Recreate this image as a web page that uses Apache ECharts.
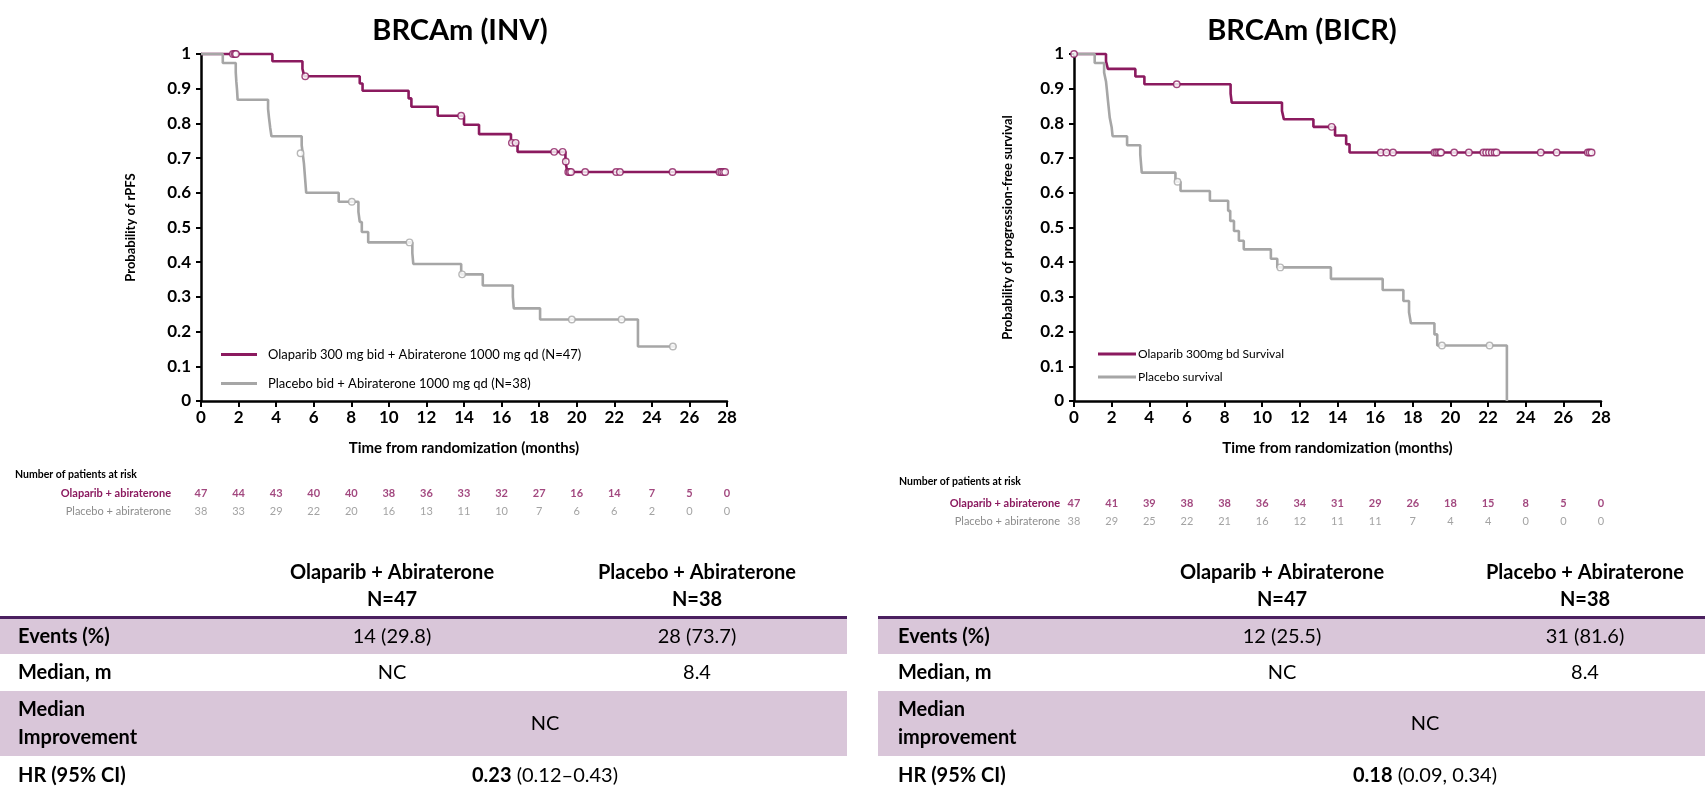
<!DOCTYPE html>
<html><head><meta charset="utf-8">
<script src="https://cdn.jsdelivr.net/npm/echarts@6/dist/echarts.min.js"></script>
<style>html,body{margin:0;padding:0;background:#fff}#c{width:1705px;height:788px}</style>
</head><body><div id="c"></div>
<script>
// ---------- DATA ----------
const riskMonths = [0,2,4,6,8,10,12,14,16,18,20,22,24,26,28];

// BRCAm (INV)
const invOlaT = [0, 3.8, 5.4, 5.5, 8.45, 8.6, 11.05, 11.2, 12.6, 14.0, 14.8, 16.5, 16.85, 19.4, 19.5, 27.9];
const invOlaS = [1, 0.979, 0.957, 0.936, 0.915, 0.894, 0.872, 0.848, 0.822, 0.796, 0.769, 0.744, 0.718, 0.690, 0.660, 0.660];
const invOlaCensT = [1.7, 1.8, 1.86, 5.55, 13.85, 16.55, 16.75, 18.8, 19.25, 19.42, 19.55, 19.62, 19.7, 20.45, 22.1, 22.3, 25.1, 27.6, 27.7, 27.8, 27.9];
const invOlaCensS = [1, 1, 1, 0.936, 0.822, 0.744, 0.744, 0.718, 0.718, 0.690, 0.660, 0.660, 0.660, 0.660, 0.660, 0.660, 0.660, 0.660, 0.660, 0.660, 0.660];
const invPlaT = [0, 1.16, 1.85, 1.88, 1.92, 1.95, 3.57, 3.62, 3.68, 3.75, 5.36, 5.42, 5.48, 5.52, 5.56, 5.6, 7.33, 8.38, 8.45, 8.56, 8.9, 11.25, 11.3, 13.85, 15.0, 16.6, 16.65, 18.05, 23.26, 25.3];
const invPlaS = [1, 0.974, 0.947, 0.921, 0.895, 0.868, 0.842, 0.816, 0.789, 0.763, 0.737, 0.711, 0.684, 0.656, 0.628, 0.600, 0.574, 0.545, 0.516, 0.487, 0.457, 0.426, 0.395, 0.365, 0.333, 0.300, 0.267, 0.235, 0.157, 0.157];
const invPlaCensT = [5.3, 8.03, 11.1, 13.9, 19.74, 22.39, 25.12];
const invPlaCensS = [0.714, 0.574, 0.457, 0.365, 0.235, 0.235, 0.157];
const invOlaRisk = [47,44,43,40,40,38,36,33,32,27,16,14,7,5,0];
const invPlaRisk = [38,33,29,22,20,16,13,11,10,7,6,6,2,0,0];

// BRCAm (BICR)
const bicrOlaT = [0, 1.7, 1.8, 3.26, 3.74, 8.32, 8.38, 11.05, 11.15, 12.72, 13.87, 14.46, 14.64, 27.5];
const bicrOlaS = [1, 0.979, 0.957, 0.935, 0.913, 0.886, 0.860, 0.836, 0.812, 0.790, 0.765, 0.740, 0.716, 0.716];
const bicrOlaCensT = [0, 5.46, 13.69, 16.3, 16.6, 16.95, 19.15, 19.25, 19.35, 19.45, 19.5, 20.2, 20.98, 21.75, 21.9, 22.05, 22.2, 22.35, 22.45, 24.8, 25.64, 27.3, 27.4, 27.5];
const bicrOlaCensS = [1, 0.913, 0.790, 0.716, 0.716, 0.716, 0.716, 0.716, 0.716, 0.716, 0.716, 0.716, 0.716, 0.716, 0.716, 0.716, 0.716, 0.716, 0.716, 0.716, 0.716, 0.716, 0.716, 0.716];
const bicrPlaT = [0, 1.1, 1.6, 1.7, 1.75, 1.8, 1.85, 1.9, 2.0, 2.05, 2.82, 3.52, 3.56, 3.6, 5.39, 5.66, 7.22, 8.19, 8.3, 8.5, 8.76, 9.02, 10.46, 10.8, 13.65, 16.4, 17.5, 17.8, 17.9, 19.15, 19.3, 23.0];
const bicrPlaS = [1, 0.974, 0.947, 0.921, 0.895, 0.868, 0.842, 0.816, 0.789, 0.763, 0.737, 0.711, 0.684, 0.658, 0.632, 0.605, 0.577, 0.548, 0.519, 0.490, 0.462, 0.437, 0.410, 0.385, 0.352, 0.320, 0.288, 0.256, 0.224, 0.192, 0.160, 0];
const bicrPlaCensT = [5.5, 10.96, 19.55, 22.08];
const bicrPlaCensS = [0.632, 0.385, 0.160, 0.160];
const bicrOlaRisk = [47,41,39,38,38,36,34,31,29,26,18,15,8,5,0];
const bicrPlaRisk = [38,29,25,22,21,16,12,11,11,7,4,4,0,0,0];

const riskRows = ['Olaparib + abiraterone', 'Placebo + abiraterone'];

// Tables
const tableHead = [['Olaparib + Abiraterone', 'N=47'], ['Placebo + Abiraterone', 'N=38']];
const invRowLabels = ['Events (%)', 'Median, m', 'Median\nImprovement', 'HR (95% CI)'];
const bicrRowLabels = ['Events (%)', 'Median, m', 'Median\nimprovement', 'HR (95% CI)'];
const invEvents = ['14 (29.8)', '28 (73.7)'];
const invMedian = ['NC', '8.4'];
const invImprove = 'NC';
const invHR = ['0.23', ' (0.12–0.43)'];
const bicrEvents = ['12 (25.5)', '31 (81.6)'];
const bicrMedian = ['NC', '8.4'];
const bicrImprove = 'NC';
const bicrHR = ['0.18', ' (0.09, 0.34)'];

// ---------- STYLE ----------
const FONT = "Lato, 'Open Sans', sans-serif";
const PURPLE = '#8b1a5f';
const GRAY = '#a6a6a6';
const GRAYTXT = '#8c8c8c';
const BAND = '#d9c6d9';
const DARK = '#4b2060';

const chart = echarts.init(document.getElementById('c'), null, {renderer: 'canvas'});

function km(name, t, s, color, ai) {
  return {type: 'line', name: name, step: 'end', data: t.map((x, i) => [x, s[i]]),
    xAxisIndex: ai, yAxisIndex: ai, symbol: 'none', showSymbol: false, clip: false,
    lineStyle: {color: color, width: 2.6}, itemStyle: {color: color}, z: 3, silent: true, animation: false};
}
function cens(t, s, color, ai) {
  return {type: 'scatter', data: t.map((x, i) => [x, s[i]]), xAxisIndex: ai, yAxisIndex: ai,
    symbol: 'circle', symbolSize: 6.5, clip: false,
    itemStyle: {color: '#fff', borderColor: color, borderWidth: 1.4}, z: 4, silent: true, animation: false};
}
function risk(vals, row, ai, style) {
  return {type: 'scatter', data: riskMonths.map((m, i) => [m, riskRows[row], vals[i]]),
    xAxisIndex: ai, yAxisIndex: ai, symbolSize: 0, silent: true, animation: false,
    label: {show: true, position: 'inside', formatter: p => p.value[2], fontFamily: FONT,
      fontSize: 11, color: style.color, fontWeight: style.weight}};
}
function kmX(gi) {
  return {type: 'value', gridIndex: gi, min: 0, max: 28, interval: 2,
    axisLine: {show: true, lineStyle: {color: '#000', width: 2.5}},
    axisTick: {show: true, inside: false, length: 6, lineStyle: {color: '#000', width: 2}},
    axisLabel: {fontFamily: FONT, fontWeight: 'bold', fontSize: 17, color: '#000', margin: 8},
    splitLine: {show: false},
    name: 'Time from randomization (months)', nameLocation: 'middle', nameGap: 40,
    nameTextStyle: {fontFamily: FONT, fontWeight: 'bold', fontSize: 15, color: '#000'}};
}
function kmY(gi, name, gap) {
  return {type: 'value', gridIndex: gi, min: 0, max: 1, interval: 0.1,
    axisLine: {show: true, lineStyle: {color: '#000', width: 2.5}},
    axisTick: {show: true, inside: false, length: 5, lineStyle: {color: '#000', width: 2}},
    axisLabel: {fontFamily: FONT, fontWeight: 'bold', fontSize: 17, color: '#000', margin: 10},
    splitLine: {show: false},
    name: name, nameLocation: 'middle', nameGap: gap, nameRotate: 90,
    nameTextStyle: {fontFamily: FONT, fontWeight: 'bold', fontSize: 13, color: '#000'}};
}
function riskY(gi, margin) {
  return {type: 'category', gridIndex: gi, data: riskRows, inverse: true,
    axisLine: {show: false}, axisTick: {show: false}, splitLine: {show: false},
    axisLabel: {margin: margin, formatter: (v, i) => (i === 0 ? '{o|' + v + '}' : '{p|' + v + '}'),
      rich: {o: {color: PURPLE, fontWeight: 'bold', fontSize: 11, fontFamily: FONT},
             p: {color: GRAYTXT, fontSize: 11, fontFamily: FONT}}}};
}

// ---------- TABLE GRAPHICS ----------
function table(x0, x1, labelX, c1, c2, cm, labels, ev, med, imp, hr) {
  const g = [];
  const hy1 = 573, hy2 = 600;
  const bands = [[619, 654], [691, 756]];
  bands.forEach(b => g.push({type: 'rect', shape: {x: x0, y: b[0], width: x1 - x0, height: b[1] - b[0]}, style: {fill: BAND}, silent: true}));
  g.push({type: 'rect', shape: {x: x0, y: 616, width: x1 - x0, height: 3}, style: {fill: DARK}, silent: true});
  const t = (x, y, text, align, bold, extra) => g.push({type: 'text', silent: true,
    style: Object.assign({x: x, y: y, text: text, textAlign: align, textVerticalAlign: 'middle',
      font: (bold ? 'bold ' : '') + '20px ' + FONT, fill: '#000', lineHeight: 28}, extra || {})});
  [c1, c2].forEach((cx, i) => { t(cx, hy1, tableHead[i][0], 'center', true); t(cx, hy2, tableHead[i][1], 'center', true); });
  const ys = [637, 673, 724, 776];
  labels.forEach((l, i) => t(labelX, ys[i], l, 'left', true));
  t(c1, ys[0], ev[0], 'center', false); t(c2, ys[0], ev[1], 'center', false);
  t(c1, ys[1], med[0], 'center', false); t(c2, ys[1], med[1], 'center', false);
  t(cm, ys[2], imp, 'center', false);
  t(cm, ys[3], '{b|' + hr[0] + '}' + hr[1], 'center', false,
    {rich: {b: {fontWeight: 'bold', fontSize: 20, fontFamily: FONT, fill: '#000'}}});
  return g;
}

const graphics = [
  {type: 'text', silent: true, style: {x: 460, y: 31, text: 'BRCAm (INV)', textAlign: 'center', textVerticalAlign: 'middle', font: 'bold 29px ' + FONT, fill: '#000'}},
  {type: 'text', silent: true, style: {x: 1302, y: 31, text: 'BRCAm (BICR)', textAlign: 'center', textVerticalAlign: 'middle', font: 'bold 29px ' + FONT, fill: '#000'}},
  {type: 'text', silent: true, style: {x: 15, y: 475, text: 'Number of patients at risk', textAlign: 'left', textVerticalAlign: 'middle', font: 'bold 10.5px ' + FONT, fill: '#000'}},
  {type: 'text', silent: true, style: {x: 899, y: 482, text: 'Number of patients at risk', textAlign: 'left', textVerticalAlign: 'middle', font: 'bold 10.5px ' + FONT, fill: '#000'}}
].concat(
  table(0, 847, 18, 392, 697, 545, invRowLabels, invEvents, invMedian, invImprove, invHR),
  table(878, 1705, 898, 1282, 1585, 1425, bicrRowLabels, bicrEvents, bicrMedian, bicrImprove, bicrHR)
);

const option = {
  animation: false,
  backgroundColor: '#fff',
  grid: [
    {left: 201, top: 54, width: 526, height: 347},
    {left: 1074, top: 54, width: 527, height: 347},
    {left: 201, top: 485, width: 526, height: 35},
    {left: 1074, top: 494, width: 527, height: 36}
  ],
  xAxis: [kmX(0), kmX(1),
    {type: 'value', gridIndex: 2, min: 0, max: 28, show: false},
    {type: 'value', gridIndex: 3, min: 0, max: 28, show: false}],
  yAxis: [kmY(0, 'Probability of rPFS', 64), kmY(1, 'Probability of progression-free survival', 60),
    riskY(2, 30), riskY(3, 14)],
  legend: [
    {orient: 'vertical', left: 216, top: 343, itemGap: 16, itemWidth: 36, itemHeight: 3, icon: 'rect',
      data: ['Olaparib 300 mg bid + Abiraterone 1000 mg qd (N=47)', 'Placebo bid + Abiraterone 1000 mg qd (N=38)'],
      textStyle: {fontFamily: FONT, fontSize: 13, color: '#000', padding: [0, 0, 0, 6]}, selectedMode: false},
    {orient: 'vertical', left: 1093, top: 343, itemGap: 11, itemWidth: 38, itemHeight: 3, icon: 'rect',
      data: ['Olaparib 300mg bd Survival', 'Placebo survival'],
      textStyle: {fontFamily: FONT, fontSize: 12, color: '#000', padding: [0, 0, 0, -3]}, selectedMode: false}
  ],
  series: [
    km('Olaparib 300 mg bid + Abiraterone 1000 mg qd (N=47)', invOlaT, invOlaS, PURPLE, 0),
    km('Placebo bid + Abiraterone 1000 mg qd (N=38)', invPlaT, invPlaS, GRAY, 0),
    cens(invOlaCensT, invOlaCensS, PURPLE, 0),
    cens(invPlaCensT, invPlaCensS, GRAY, 0),
    km('Olaparib 300mg bd Survival', bicrOlaT, bicrOlaS, PURPLE, 1),
    km('Placebo survival', bicrPlaT, bicrPlaS, GRAY, 1),
    cens(bicrOlaCensT, bicrOlaCensS, PURPLE, 1),
    cens(bicrPlaCensT, bicrPlaCensS, GRAY, 1),
    risk(invOlaRisk, 0, 2, {color: PURPLE, weight: 'bold'}),
    risk(invPlaRisk, 1, 2, {color: GRAYTXT, weight: 'normal'}),
    risk(bicrOlaRisk, 0, 3, {color: PURPLE, weight: 'bold'}),
    risk(bicrPlaRisk, 1, 3, {color: GRAYTXT, weight: 'normal'})
  ],
  graphic: graphics
};
chart.setOption(option);
</script></body></html>
